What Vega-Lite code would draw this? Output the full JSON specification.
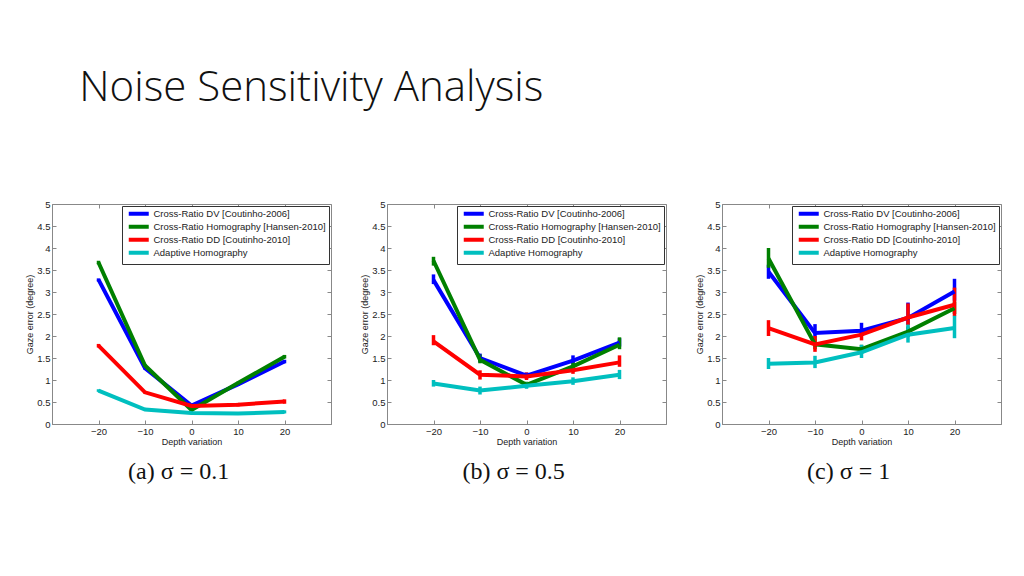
{
  "$schema": "https://vega.github.io/schema/vega-lite/v6.json",
  "background": "white",
  "padding": {"left": 25, "top": 66, "right": 5, "bottom": 5},
  "title": {"text": "Noise Sensitivity Analysis", "orient": "top", "anchor": "start", "font": "Open Sans", "fontWeight": 300, "fontSize": 42, "color": "#111", "dx": 54, "offset": 89, "baseline": "top"},
  "spacing": 28,
  "resolve": {"legend": {"color": "independent"}, "scale": {"color": "independent"}},
  "datasets": {
    "a": [
      {"d": -20, "m": "Cross-Ratio DV [Coutinho-2006]", "e": 3.28, "lo": 3.24, "hi": 3.31},
      {"d": -10, "m": "Cross-Ratio DV [Coutinho-2006]", "e": 1.27, "lo": 1.24, "hi": 1.30},
      {"d": 0, "m": "Cross-Ratio DV [Coutinho-2006]", "e": 0.42, "lo": 0.39, "hi": 0.45},
      {"d": 10, "m": "Cross-Ratio DV [Coutinho-2006]", "e": 0.9, "lo": 0.87, "hi": 0.93},
      {"d": 20, "m": "Cross-Ratio DV [Coutinho-2006]", "e": 1.42, "lo": 1.38, "hi": 1.46},
      {"d": -20, "m": "Cross-Ratio Homography [Hansen-2010]", "e": 3.67, "lo": 3.63, "hi": 3.71},
      {"d": -10, "m": "Cross-Ratio Homography [Hansen-2010]", "e": 1.33, "lo": 1.30, "hi": 1.36},
      {"d": 0, "m": "Cross-Ratio Homography [Hansen-2010]", "e": 0.32, "lo": 0.29, "hi": 0.35},
      {"d": 10, "m": "Cross-Ratio Homography [Hansen-2010]", "e": 0.93, "lo": 0.90, "hi": 0.96},
      {"d": 20, "m": "Cross-Ratio Homography [Hansen-2010]", "e": 1.53, "lo": 1.49, "hi": 1.57},
      {"d": -20, "m": "Cross-Ratio DD [Coutinho-2010]", "e": 1.78, "lo": 1.74, "hi": 1.82},
      {"d": -10, "m": "Cross-Ratio DD [Coutinho-2010]", "e": 0.72, "lo": 0.69, "hi": 0.75},
      {"d": 0, "m": "Cross-Ratio DD [Coutinho-2010]", "e": 0.41, "lo": 0.37, "hi": 0.45},
      {"d": 10, "m": "Cross-Ratio DD [Coutinho-2010]", "e": 0.44, "lo": 0.40, "hi": 0.48},
      {"d": 20, "m": "Cross-Ratio DD [Coutinho-2010]", "e": 0.51, "lo": 0.46, "hi": 0.56},
      {"d": -20, "m": "Adaptive Homography", "e": 0.76, "lo": 0.73, "hi": 0.79},
      {"d": -10, "m": "Adaptive Homography", "e": 0.33, "lo": 0.30, "hi": 0.36},
      {"d": 0, "m": "Adaptive Homography", "e": 0.25, "lo": 0.22, "hi": 0.28},
      {"d": 10, "m": "Adaptive Homography", "e": 0.24, "lo": 0.21, "hi": 0.27},
      {"d": 20, "m": "Adaptive Homography", "e": 0.27, "lo": 0.24, "hi": 0.31}
    ],
    "b": [
      {"d": -20, "m": "Cross-Ratio DV [Coutinho-2006]", "e": 3.27, "lo": 3.18, "hi": 3.4},
      {"d": -10, "m": "Cross-Ratio DV [Coutinho-2006]", "e": 1.5, "lo": 1.4, "hi": 1.6},
      {"d": 0, "m": "Cross-Ratio DV [Coutinho-2006]", "e": 1.1, "lo": 1.03, "hi": 1.17},
      {"d": 10, "m": "Cross-Ratio DV [Coutinho-2006]", "e": 1.44, "lo": 1.35, "hi": 1.56},
      {"d": 20, "m": "Cross-Ratio DV [Coutinho-2006]", "e": 1.85, "lo": 1.76, "hi": 1.95},
      {"d": -20, "m": "Cross-Ratio Homography [Hansen-2010]", "e": 3.71, "lo": 3.6, "hi": 3.8},
      {"d": -10, "m": "Cross-Ratio Homography [Hansen-2010]", "e": 1.46, "lo": 1.38, "hi": 1.58},
      {"d": 0, "m": "Cross-Ratio Homography [Hansen-2010]", "e": 0.89, "lo": 0.83, "hi": 0.96},
      {"d": 10, "m": "Cross-Ratio Homography [Hansen-2010]", "e": 1.31, "lo": 1.23, "hi": 1.4},
      {"d": 20, "m": "Cross-Ratio Homography [Hansen-2010]", "e": 1.8, "lo": 1.7, "hi": 1.97},
      {"d": -20, "m": "Cross-Ratio DD [Coutinho-2010]", "e": 1.88, "lo": 1.79, "hi": 2.02},
      {"d": -10, "m": "Cross-Ratio DD [Coutinho-2010]", "e": 1.12, "lo": 1.01, "hi": 1.22},
      {"d": 0, "m": "Cross-Ratio DD [Coutinho-2010]", "e": 1.08, "lo": 1.0, "hi": 1.17},
      {"d": 10, "m": "Cross-Ratio DD [Coutinho-2010]", "e": 1.22, "lo": 1.14, "hi": 1.3},
      {"d": 20, "m": "Cross-Ratio DD [Coutinho-2010]", "e": 1.4, "lo": 1.3, "hi": 1.56},
      {"d": -20, "m": "Adaptive Homography", "e": 0.92, "lo": 0.85, "hi": 1.0},
      {"d": -10, "m": "Adaptive Homography", "e": 0.76, "lo": 0.67, "hi": 0.85},
      {"d": 0, "m": "Adaptive Homography", "e": 0.87, "lo": 0.8, "hi": 0.95},
      {"d": 10, "m": "Adaptive Homography", "e": 0.97, "lo": 0.89, "hi": 1.06},
      {"d": 20, "m": "Adaptive Homography", "e": 1.12, "lo": 1.02, "hi": 1.23}
    ],
    "c": [
      {"d": -20, "m": "Cross-Ratio DV [Coutinho-2006]", "e": 3.46, "lo": 3.3, "hi": 3.62},
      {"d": -10, "m": "Cross-Ratio DV [Coutinho-2006]", "e": 2.07, "lo": 1.95, "hi": 2.27},
      {"d": 0, "m": "Cross-Ratio DV [Coutinho-2006]", "e": 2.12, "lo": 2.0, "hi": 2.3},
      {"d": 10, "m": "Cross-Ratio DV [Coutinho-2006]", "e": 2.41, "lo": 2.25, "hi": 2.76},
      {"d": 20, "m": "Cross-Ratio DV [Coutinho-2006]", "e": 3.01, "lo": 2.8, "hi": 3.3},
      {"d": -20, "m": "Cross-Ratio Homography [Hansen-2010]", "e": 3.76, "lo": 3.55, "hi": 4.0},
      {"d": -10, "m": "Cross-Ratio Homography [Hansen-2010]", "e": 1.81, "lo": 1.7, "hi": 1.95},
      {"d": 0, "m": "Cross-Ratio Homography [Hansen-2010]", "e": 1.7, "lo": 1.6, "hi": 1.8},
      {"d": 10, "m": "Cross-Ratio Homography [Hansen-2010]", "e": 2.1, "lo": 1.98, "hi": 2.22},
      {"d": 20, "m": "Cross-Ratio Homography [Hansen-2010]", "e": 2.63, "lo": 2.5, "hi": 2.78},
      {"d": -20, "m": "Cross-Ratio DD [Coutinho-2010]", "e": 2.18, "lo": 2.0, "hi": 2.36},
      {"d": -10, "m": "Cross-Ratio DD [Coutinho-2010]", "e": 1.81, "lo": 1.64, "hi": 2.0},
      {"d": 0, "m": "Cross-Ratio DD [Coutinho-2010]", "e": 2.03, "lo": 1.9, "hi": 2.16},
      {"d": 10, "m": "Cross-Ratio DD [Coutinho-2010]", "e": 2.42, "lo": 2.24, "hi": 2.74},
      {"d": 20, "m": "Cross-Ratio DD [Coutinho-2010]", "e": 2.71, "lo": 2.45, "hi": 3.1},
      {"d": -20, "m": "Adaptive Homography", "e": 1.37, "lo": 1.25, "hi": 1.5},
      {"d": -10, "m": "Adaptive Homography", "e": 1.4, "lo": 1.27, "hi": 1.55},
      {"d": 0, "m": "Adaptive Homography", "e": 1.63, "lo": 1.5, "hi": 1.8},
      {"d": 10, "m": "Adaptive Homography", "e": 2.03, "lo": 1.85, "hi": 2.26},
      {"d": 20, "m": "Adaptive Homography", "e": 2.18, "lo": 1.95, "hi": 2.46}
    ]
  },
  "hconcat": [
    {
      "title": {"text": "(a) σ = 0.1", "orient": "bottom"},
      "width": 279, "height": 220,
      "data": {"name": "a"},
      "resolve": {"axis": {"x": "independent", "y": "independent"}},
      "layer": [
        {
          "mark": {"type": "rule", "strokeWidth": 3.5},
          "encoding": {
            "x": {"field": "d", "type": "quantitative", "scale": {"domain": [-30, 30]}, "axis": {"orient": "top", "labels": false, "domain": false, "title": null, "values": [-20, -10, 0, 10, 20]}},
            "y": {"field": "lo", "type": "quantitative", "scale": {"domain": [0, 5]}, "axis": {"orient": "right", "labels": false, "domain": false, "title": null, "values": [0, 0.5, 1, 1.5, 2, 2.5, 3, 3.5, 4, 4.5, 5]}},
            "y2": {"field": "hi"},
            "color": {"field": "m", "type": "nominal", "sort": null, "legend": {"title": null}, "scale": {"domain": ["Cross-Ratio DV [Coutinho-2006]", "Cross-Ratio Homography [Hansen-2010]", "Cross-Ratio DD [Coutinho-2010]", "Adaptive Homography"], "range": ["#0000ff", "#008000", "#ff0000", "#00bfbf"]}}
          }
        },
        {
          "mark": {"type": "line", "strokeWidth": 4},
          "encoding": {
            "x": {"field": "d", "type": "quantitative", "scale": {"domain": [-30, 30]}, "axis": {"title": "Depth variation", "values": [-20, -10, 0, 10, 20]}},
            "y": {"field": "e", "type": "quantitative", "scale": {"domain": [0, 5]}, "axis": {"title": "Gaze error (degree)", "values": [0, 0.5, 1, 1.5, 2, 2.5, 3, 3.5, 4, 4.5, 5], "format": "~g"}},
            "color": {"field": "m", "type": "nominal", "sort": null, "scale": {"domain": ["Cross-Ratio DV [Coutinho-2006]", "Cross-Ratio Homography [Hansen-2010]", "Cross-Ratio DD [Coutinho-2010]", "Adaptive Homography"], "range": ["#0000ff", "#008000", "#ff0000", "#00bfbf"]}, "legend": {"title": null}}
          }
        }
      ]
    },
    {
      "title": {"text": "(b) σ = 0.5", "orient": "bottom"},
      "width": 279, "height": 220,
      "data": {"name": "b"},
      "resolve": {"axis": {"x": "independent", "y": "independent"}},
      "layer": [
        {
          "mark": {"type": "rule", "strokeWidth": 3.5},
          "encoding": {
            "x": {"field": "d", "type": "quantitative", "scale": {"domain": [-30, 30]}, "axis": {"orient": "top", "labels": false, "domain": false, "title": null, "values": [-20, -10, 0, 10, 20]}},
            "y": {"field": "lo", "type": "quantitative", "scale": {"domain": [0, 5]}, "axis": {"orient": "right", "labels": false, "domain": false, "title": null, "values": [0, 0.5, 1, 1.5, 2, 2.5, 3, 3.5, 4, 4.5, 5]}},
            "y2": {"field": "hi"},
            "color": {"field": "m", "type": "nominal", "sort": null, "legend": {"title": null}, "scale": {"domain": ["Cross-Ratio DV [Coutinho-2006]", "Cross-Ratio Homography [Hansen-2010]", "Cross-Ratio DD [Coutinho-2010]", "Adaptive Homography"], "range": ["#0000ff", "#008000", "#ff0000", "#00bfbf"]}}
          }
        },
        {
          "mark": {"type": "line", "strokeWidth": 4},
          "encoding": {
            "x": {"field": "d", "type": "quantitative", "scale": {"domain": [-30, 30]}, "axis": {"title": "Depth variation", "values": [-20, -10, 0, 10, 20]}},
            "y": {"field": "e", "type": "quantitative", "scale": {"domain": [0, 5]}, "axis": {"title": "Gaze error (degree)", "values": [0, 0.5, 1, 1.5, 2, 2.5, 3, 3.5, 4, 4.5, 5], "format": "~g"}},
            "color": {"field": "m", "type": "nominal", "sort": null, "scale": {"domain": ["Cross-Ratio DV [Coutinho-2006]", "Cross-Ratio Homography [Hansen-2010]", "Cross-Ratio DD [Coutinho-2010]", "Adaptive Homography"], "range": ["#0000ff", "#008000", "#ff0000", "#00bfbf"]}, "legend": {"title": null}}
          }
        }
      ]
    },
    {
      "title": {"text": "(c) σ = 1", "orient": "bottom"},
      "width": 279, "height": 220,
      "data": {"name": "c"},
      "resolve": {"axis": {"x": "independent", "y": "independent"}},
      "layer": [
        {
          "mark": {"type": "rule", "strokeWidth": 3.5},
          "encoding": {
            "x": {"field": "d", "type": "quantitative", "scale": {"domain": [-30, 30]}, "axis": {"orient": "top", "labels": false, "domain": false, "title": null, "values": [-20, -10, 0, 10, 20]}},
            "y": {"field": "lo", "type": "quantitative", "scale": {"domain": [0, 5]}, "axis": {"orient": "right", "labels": false, "domain": false, "title": null, "values": [0, 0.5, 1, 1.5, 2, 2.5, 3, 3.5, 4, 4.5, 5]}},
            "y2": {"field": "hi"},
            "color": {"field": "m", "type": "nominal", "sort": null, "legend": {"title": null}, "scale": {"domain": ["Cross-Ratio DV [Coutinho-2006]", "Cross-Ratio Homography [Hansen-2010]", "Cross-Ratio DD [Coutinho-2010]", "Adaptive Homography"], "range": ["#0000ff", "#008000", "#ff0000", "#00bfbf"]}}
          }
        },
        {
          "mark": {"type": "line", "strokeWidth": 4},
          "encoding": {
            "x": {"field": "d", "type": "quantitative", "scale": {"domain": [-30, 30]}, "axis": {"title": "Depth variation", "values": [-20, -10, 0, 10, 20]}},
            "y": {"field": "e", "type": "quantitative", "scale": {"domain": [0, 5]}, "axis": {"title": "Gaze error (degree)", "values": [0, 0.5, 1, 1.5, 2, 2.5, 3, 3.5, 4, 4.5, 5], "format": "~g"}},
            "color": {"field": "m", "type": "nominal", "sort": null, "scale": {"domain": ["Cross-Ratio DV [Coutinho-2006]", "Cross-Ratio Homography [Hansen-2010]", "Cross-Ratio DD [Coutinho-2010]", "Adaptive Homography"], "range": ["#0000ff", "#008000", "#ff0000", "#00bfbf"]}, "legend": {"title": null}}
          }
        }
      ]
    }
  ],
  "config": {
    "view": {"stroke": "#888", "strokeWidth": 1},
    "title": {"font": "Liberation Serif", "fontSize": 24, "fontWeight": "normal", "color": "#111", "offset": 13, "frame": "bounds"},
    "axis": {"grid": false, "labelFont": "Liberation Sans", "labelFontSize": 9.5, "labelColor": "#222", "titleFont": "Liberation Sans", "titleFontSize": 9, "titleFontWeight": "normal", "titleColor": "#222", "domainColor": "#888", "tickColor": "#888", "tickSize": -4, "labelPadding": 6, "titlePadding": 2},
    "legend": {"orient": "top-right", "offset": 2, "strokeColor": "#333", "fillColor": "white", "padding": 3, "symbolType": "M-5,0H5", "symbolStrokeWidth": 4, "symbolSize": 16, "labelFont": "Liberation Sans", "labelFontSize": 9.5, "labelColor": "#222", "labelLimit": 400, "rowPadding": -4, "symbolOffset": 9, "labelOffset": 10, "cornerRadius": 0}
  }
}
